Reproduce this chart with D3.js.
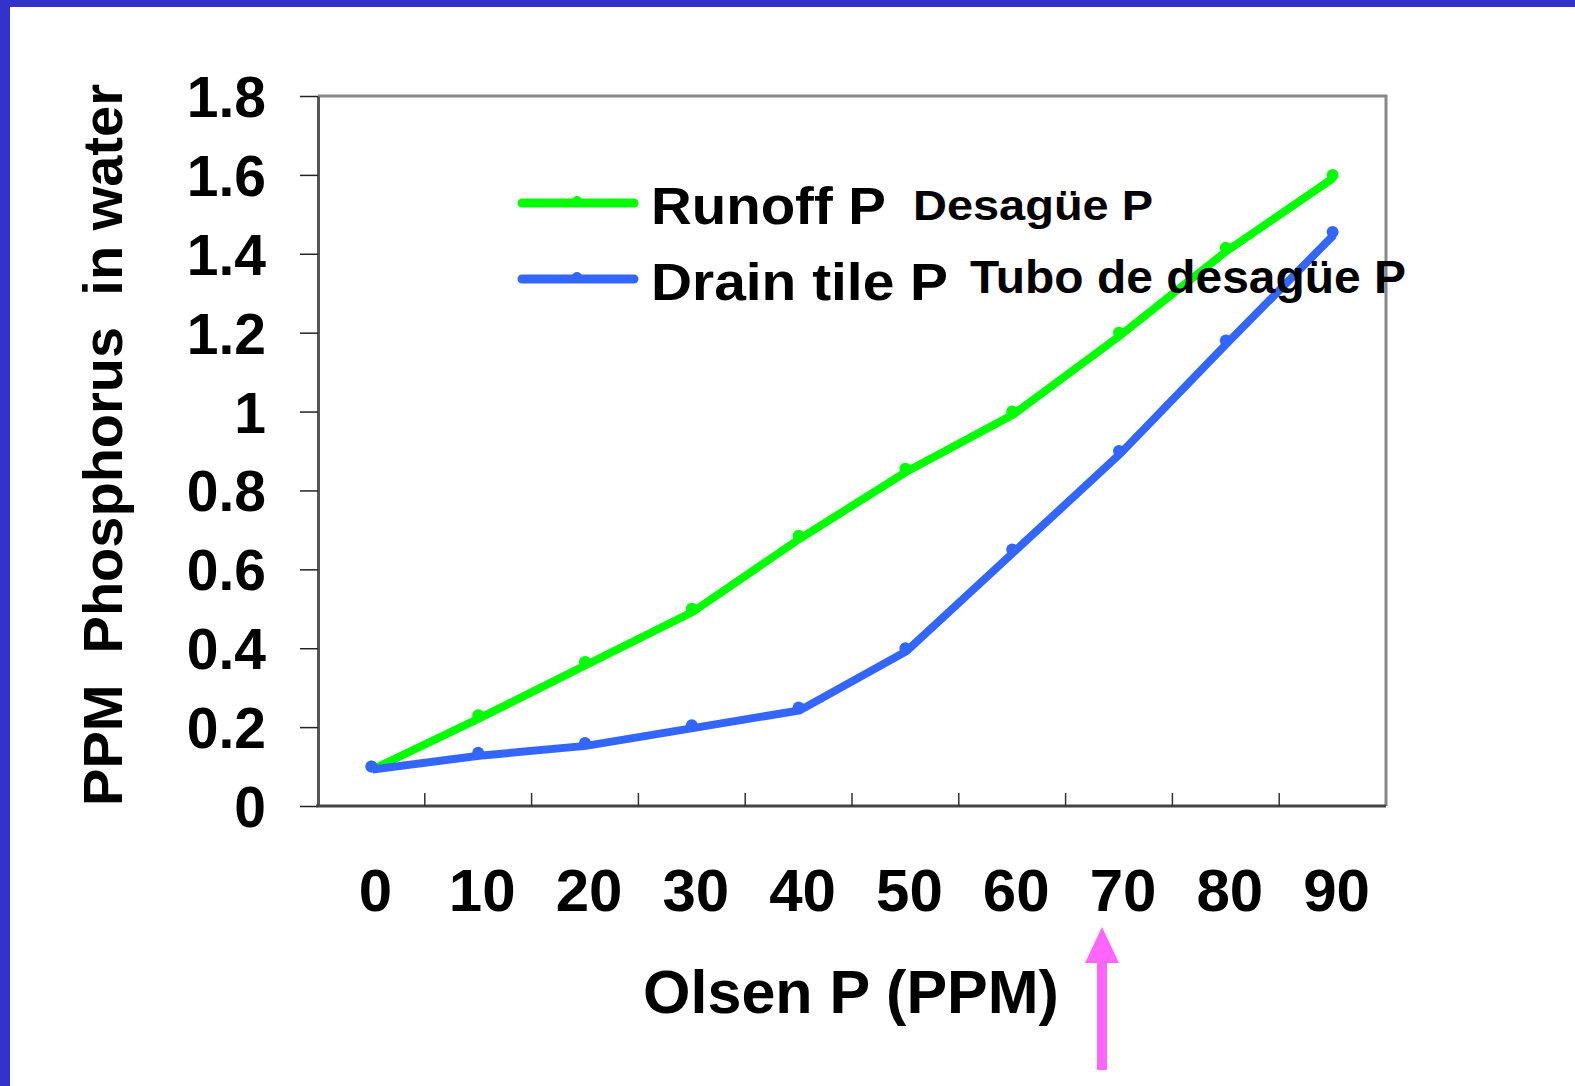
<!DOCTYPE html>
<html>
<head>
<meta charset="utf-8">
<script src="https://cdn.jsdelivr.net/npm/d3@7"></script>
<style>
  html, body { margin: 0; padding: 0; background: #fff; overflow: hidden; }
  svg { display: block; }
  text { font-family: "Liberation Sans", Arial, sans-serif; font-weight: bold; fill: #000; }
</style>
</head>
<body>
<div id="viz"></div>
<script>
const width = 1575;
const height = 1086;
const margin = {top: 96, right: 189, bottom: 280, left: 318};

// Olsen P categories (PPM)
const olsenP = ['0', '10', '20', '30', '40', '50', '60', '70', '80', '90'];
// PPM phosphorus in water
const runoffP = [0.1, 0.23, 0.365, 0.5, 0.685, 0.855, 1.0, 1.2, 1.415, 1.6];
const drainTileP = [0.1, 0.135, 0.16, 0.205, 0.25, 0.4, 0.65, 0.9, 1.18, 1.455];
const yTicks = [0, 0.2, 0.4, 0.6, 0.8, 1, 1.2, 1.4, 1.6, 1.8];
const highlight = '70';

const series = [
  {name: 'Runoff P', alt: 'Desagüe P', values: runoffP, color: '#00ff00'},
  {name: 'Drain tile P', alt: 'Tubo de desagüe P', values: drainTileP, color: '#3366ff'}
];

const svg = d3.select('#viz')
  .append('svg')
    .attr('width', width)
    .attr('height', height);

// slide frame
svg.append('rect').attr('x', 0).attr('y', 0).attr('width', width).attr('height', 7).attr('fill', '#3333cc');
svg.append('rect').attr('x', 0).attr('y', 0).attr('width', 10).attr('height', height).attr('fill', '#3333cc');

const xScale = d3.scaleBand()
  .domain(olsenP)
  .range([margin.left, width - margin.right]);

const yScale = d3.scaleLinear()
  .domain([0, 1.8])
  .range([height - margin.bottom, margin.top]);

const x0 = margin.left, x1 = width - margin.right;
const y0 = height - margin.bottom, y1 = margin.top;

// plot frame: grey top/right
svg.append('path')
  .attr('d', `M${x0},${y1}H${x1}V${y0}`)
  .attr('fill', 'none')
  .attr('stroke', '#888')
  .attr('stroke-width', 3);

// y axis
const yAxis = d3.axisLeft(yScale)
  .tickValues(yTicks)
  .tickFormat(d => d3.format('')(+d.toFixed(1)))
  .tickSize(18)
  .tickPadding(34)
  .tickSizeOuter(0);
const yAxisGroup = svg.append('g')
  .attr('transform', `translate(${x0},0)`)
  .call(yAxis);
yAxisGroup.select('.domain').attr('stroke', '#555').attr('stroke-width', 3);
yAxisGroup.selectAll('.tick line').attr('stroke', '#222').attr('stroke-width', 1.5);
yAxisGroup.selectAll('.tick text')
  .style('font-size', '57px')
  .attr('dy', '0.36em');

// x axis: ticks at band edges pointing inward
const xAxisGroup = svg.append('g')
  .attr('transform', `translate(0,${y0})`);
xAxisGroup.append('line')
  .attr('x1', x0 - 2).attr('x2', x1)
  .attr('stroke', '#444').attr('stroke-width', 3);
xAxisGroup.selectAll('.edge')
  .data(olsenP.slice(1))
  .join('line')
    .attr('class', 'edge')
    .attr('x1', d => xScale(d)).attr('x2', d => xScale(d))
    .attr('y1', 0).attr('y2', -13)
    .attr('stroke', '#333').attr('stroke-width', 1.5);
xAxisGroup.selectAll('.xlabel')
  .data(olsenP)
  .join('text')
    .attr('class', 'xlabel')
    .attr('x', d => xScale(d) + xScale.bandwidth() / 2 + 4)
    .attr('y', 105)
    .attr('text-anchor', 'middle')
    .style('font-size', '60px')
    .text(d => d);

// axis titles
svg.append('text')
  .attr('x', 851)
  .attr('y', 1013)
  .attr('text-anchor', 'middle')
  .style('font-size', '61px')
  .text('Olsen P (PPM)');

svg.append('text')
  .attr('transform', `translate(122, 445) rotate(-90)`)
  .attr('text-anchor', 'middle')
  .style('font-size', '56px')
  .style('white-space', 'pre')
  .text('PPM  Phosphorus  in water');

// lines
const line = d3.line()
  .x((d, i) => xScale(olsenP[i]) + xScale.bandwidth() / 2)
  .y(d => yScale(d));

const seriesGroup = svg.append('g');
series.forEach(s => {
  seriesGroup.append('path')
    .attr('d', line(s.values))
    .attr('transform', 'translate(1,3)')
    .attr('fill', 'none')
    .attr('stroke', s.color)
    .attr('stroke-width', 8)
    .attr('stroke-linejoin', 'miter');
  seriesGroup.selectAll(null)
    .data(s.values)
    .join('circle')
      .attr('cx', (d, i) => xScale(olsenP[i]) + xScale.bandwidth() / 2)
      .attr('cy', d => yScale(d))
      .attr('r', 6)
      .attr('fill', s.color);
});

// legend
const legend = svg.append('g');
const legendRows = [
  {y: 203, nameY: 224, nameSize: 51, nameLen: 235, altX: 913, altY: 220, altSize: 43, altLen: 240},
  {y: 279, nameY: 300, nameSize: 51, nameLen: 297, altX: 970, altY: 293, altSize: 46, altLen: 436}
];
series.forEach((s, i) => {
  const r = legendRows[i];
  legend.append('line')
    .attr('x1', 522).attr('x2', 634)
    .attr('y1', r.y).attr('y2', r.y)
    .attr('stroke', s.color)
    .attr('stroke-width', 9)
    .attr('stroke-linecap', 'round');
  legend.append('circle')
    .attr('cx', 577).attr('cy', r.y - 2).attr('r', 5)
    .attr('fill', s.color);
  legend.append('text')
    .attr('x', 651).attr('y', r.nameY)
    .attr('textLength', r.nameLen)
    .attr('lengthAdjust', 'spacingAndGlyphs')
    .style('font-size', r.nameSize + 'px')
    .text(s.name);
  legend.append('text')
    .attr('x', r.altX).attr('y', r.altY)
    .attr('textLength', r.altLen)
    .attr('lengthAdjust', 'spacingAndGlyphs')
    .style('font-size', r.altSize + 'px')
    .text(s.alt);
});

// pink arrow pointing at 70
const ax = xScale(highlight) + xScale.bandwidth() / 2 - 17;
svg.append('path')
  .attr('d', `M${ax - 5},1070V963H${ax - 17}L${ax},927L${ax + 17},963H${ax + 5}V1070Z`)
  .attr('fill', '#ff66ff');
</script>
</body>
</html>
